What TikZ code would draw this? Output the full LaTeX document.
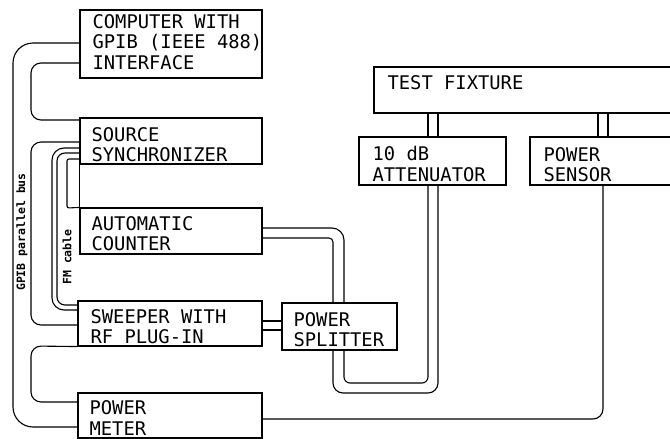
\documentclass[tikz,border=0pt]{standalone}
\usepackage{fontspec}
\newfontfamily\plotfont{DejaVu Sans Mono}
\begin{document}
\begin{tikzpicture}[x=1pt,y=-1pt, line width=1.1pt,
  box/.style={draw, rectangle, inner sep=0pt, line width=1.1pt},
  lbl/.style={anchor=north west, inner sep=0pt, align=left, font=\plotfont\fontsize{18.8}{20.5}\selectfont},
  side/.style={inner sep=0pt, rotate=90, font=\plotfont\bfseries\fontsize{11.5}{12}\selectfont}]
\useasboundingbox (0,0) rectangle (670,439);
\clip (0,0) rectangle (670,439);
% boxes
\node[box, minimum width=182pt, minimum height=68pt] (comp) at (171,44) {};
\node[box, minimum width=182pt, minimum height=46pt] (sync) at (171,141) {};
\node[box, minimum width=182pt, minimum height=46pt] (counter) at (171,231) {};
\node[box, minimum width=184pt, minimum height=45pt] (sweeper) at (170,323.5) {};
\node[box, minimum width=184pt, minimum height=45pt] (meter) at (170,415.5) {};
\node[box, minimum width=115pt, minimum height=47pt] (splitter) at (339.5,326.5) {};
\node[box, minimum width=326pt, minimum height=46pt] (fixture) at (537,90) {};
\node[box, minimum width=147pt, minimum height=48pt] (atten) at (432.5,161) {};
\node[box, minimum width=170pt, minimum height=48pt] (sensor) at (615,161) {};
% texts
\node[lbl] (tcomp) at (92,13.5) {COMPUTER WITH\\GPIB (IEEE 488)\\INTERFACE};
\node[lbl] (tsync) at (91,126.5) {SOURCE\\SYNCHRONIZER};
\node[lbl] (tcounter) at (91,215.5) {AUTOMATIC\\COUNTER};
\node[lbl] (tsweeper) at (90,308.5) {SWEEPER WITH\\RF PLUG-IN};
\node[lbl] (tmeter) at (89,400) {POWER\\METER};
\node[lbl] (tsplitter) at (293,311.5) {POWER\\SPLITTER};
\node[lbl] (tfixture) at (387,74.5) {TEST FIXTURE};
\node[lbl] (tatten) at (372,146) {10 dB\\ATTENUATOR};
\node[lbl] (tsensor) at (543,146.5) {POWER\\SENSOR};
\node[side] (lgpib) at (22,232) {GPIB parallel bus};
\node[side] (lfm) at (67,257) {FM cable};
% left-side cables
\draw[rounded corners=20pt] (comp.west |- 0,43) -- (13,43) -- (13,427) -- (meter.west |- 0,427);
\draw[rounded corners=10pt] (comp.west |- 0,63) -- (31,63) -- (31,120) -- (sync.west |- 0,120);
\draw[rounded corners=10pt] (sync.west |- 0,142) -- (31,142) -- (31,325) -- (sweeper.west |- 0,325);
\draw[rounded corners=10pt] (sweeper.south west) -- (31,346) -- (31,402) -- (meter.west |- 0,402);
\draw[rounded corners=12pt] (sync.west |- 0,148) -- (52,148) -- (52,310) -- (sweeper.west |- 0,310);
\draw[rounded corners=8pt] (sync.west |- 0,153) -- (57,153) -- (57,305) -- (sweeper.west |- 0,305);
\draw[rounded corners=2pt] (sync.west |- 0,159) -- (67,159) -- (67,208) -- (counter.north west);
\draw (sync.south west) -- (counter.north west);
% right-side cables
\draw[rounded corners=12pt] (counter.east |- 0,228) -- (344,228) -- (splitter.north -| 344,0);
\draw[rounded corners=4pt] (counter.east |- 0,238) -- (333,238) -- (splitter.north -| 333,0);
\draw (sweeper.east |- 0,321) -- (splitter.west |- 0,321);
\draw (sweeper.east |- 0,330) -- (splitter.west |- 0,330);
\draw[rounded corners=6pt] (splitter.south -| 344,0) -- (344,383) -- (428,383) -- (atten.south -| 428,0);
\draw[rounded corners=10pt] (splitter.south -| 333,0) -- (333,393) -- (438,393) -- (atten.south -| 438,0);
\draw (fixture.south -| 428,0) -- (atten.north -| 428,0);
\draw (fixture.south -| 438,0) -- (atten.north -| 438,0);
\draw (fixture.south -| 598,0) -- (sensor.north -| 598,0);
\draw (fixture.south -| 608,0) -- (sensor.north -| 608,0);
\draw[rounded corners=10pt] (sensor.south -| 603,0) -- (603,419) -- (meter.east |- 0,419);
\end{tikzpicture}
\end{document}
